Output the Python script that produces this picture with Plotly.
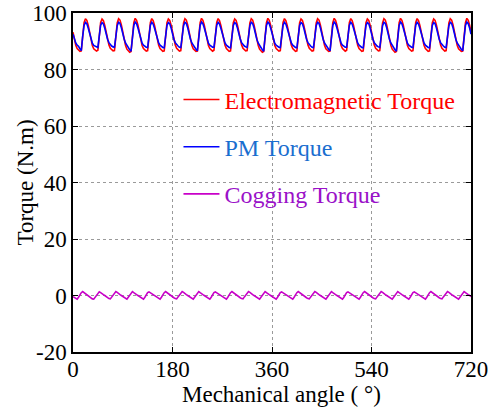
import plotly.graph_objects as go

# Mechanical angle samples (deg), 2.5 deg step
angle_step = 2.5
n_points = 289

# Electromagnetic torque (N.m), one row per 30-deg slot period
em_torque = [
    93.2, 90.6, 88.6, 87.4, 86.8, 86.4, 86.6, 91.5, 96.6, 98.0, 97.4, 95.7,
    93.3, 90.5, 88.5, 87.3, 86.7, 86.5, 86.8, 91.6, 96.7, 97.9, 97.3, 95.6,
    93.1, 90.6, 88.7, 87.5, 86.9, 86.6, 86.7, 91.4, 96.5, 98.0, 97.5, 95.8,
    93.2, 90.7, 88.6, 87.2, 86.5, 86.1, 86.4, 91.3, 96.6, 98.1, 97.4, 95.7,
    93.3, 90.6, 88.5, 87.4, 86.8, 86.5, 86.7, 91.5, 96.7, 98.0, 97.3, 95.6,
    93.2, 90.5, 88.6, 87.4, 86.7, 86.4, 86.6, 91.6, 96.6, 97.9, 97.4, 95.7,
    93.1, 90.6, 88.7, 87.5, 86.9, 86.5, 86.7, 91.4, 96.5, 98.0, 97.5, 95.8,
    93.2, 90.6, 88.6, 87.3, 86.7, 86.4, 86.5, 91.5, 96.6, 98.1, 97.4, 95.7,
    93.3, 90.5, 88.5, 87.4, 86.8, 86.5, 86.8, 91.6, 96.7, 98.0, 97.3, 95.6,
    93.2, 90.6, 88.6, 87.4, 86.7, 86.4, 86.6, 91.5, 96.6, 97.9, 97.4, 95.7,
    93.1, 90.7, 88.7, 87.5, 86.9, 86.6, 86.7, 91.4, 96.5, 98.0, 97.5, 95.8,
    93.2, 90.6, 88.6, 87.2, 86.5, 86.1, 86.4, 91.3, 96.6, 98.1, 97.4, 95.7,
    93.3, 90.6, 88.5, 87.4, 86.8, 86.5, 86.7, 91.5, 96.7, 98.0, 97.3, 95.6,
    93.2, 90.5, 88.6, 87.4, 86.7, 86.4, 86.6, 91.6, 96.6, 97.9, 97.4, 95.7,
    93.1, 90.6, 88.7, 87.5, 86.9, 86.5, 86.7, 91.4, 96.5, 98.0, 97.5, 95.8,
    93.2, 90.6, 88.6, 87.3, 86.7, 86.4, 86.5, 91.5, 96.6, 98.1, 97.4, 95.7,
    93.3, 90.5, 88.5, 87.4, 86.8, 86.5, 86.8, 91.6, 96.7, 98.0, 97.3, 95.6,
    93.2, 90.6, 88.6, 87.4, 86.7, 86.4, 86.6, 91.5, 96.6, 97.9, 97.4, 95.7,
    93.1, 90.7, 88.7, 87.5, 86.9, 86.6, 86.7, 91.4, 96.5, 98.0, 97.5, 95.8,
    93.2, 90.6, 88.6, 87.2, 86.5, 86.1, 86.4, 91.3, 96.6, 98.1, 97.4, 95.7,
    93.3, 90.6, 88.5, 87.4, 86.8, 86.5, 86.7, 91.5, 96.7, 98.0, 97.3, 95.6,
    93.2, 90.5, 88.6, 87.4, 86.7, 86.4, 86.6, 91.6, 96.6, 97.9, 97.4, 95.7,
    93.1, 90.6, 88.7, 87.5, 86.9, 86.5, 86.7, 91.4, 96.5, 98.0, 97.5, 95.8,
    93.2, 90.6, 88.6, 87.3, 86.7, 86.4, 86.5, 91.5, 96.6, 98.1, 97.4, 95.7,
    93.2,
]

# PM torque (N.m)
pm_torque = [
    92.5, 90.7, 89.4, 88.6, 88.2, 87.3, 86.7, 91.7, 95.6, 96.7, 96.2, 94.7,
    92.6, 90.6, 89.3, 88.5, 88.2, 87.9, 87.8, 91.8, 95.7, 96.6, 96.1, 94.6,
    92.4, 90.7, 89.5, 88.7, 88.3, 88.0, 87.9, 91.6, 95.5, 96.7, 96.3, 94.8,
    92.5, 90.8, 89.4, 88.4, 87.8, 87.0, 86.5, 91.5, 95.6, 96.8, 96.2, 94.7,
    92.6, 90.7, 89.3, 88.6, 88.2, 87.9, 87.8, 91.7, 95.7, 96.7, 96.1, 94.6,
    92.5, 90.6, 89.4, 88.6, 88.1, 87.8, 87.7, 91.8, 95.6, 96.6, 96.2, 94.7,
    92.4, 90.7, 89.5, 88.7, 88.3, 87.9, 87.8, 91.6, 95.5, 96.7, 96.3, 94.8,
    92.5, 90.7, 89.4, 88.5, 88.0, 87.2, 86.6, 91.7, 95.6, 96.8, 96.2, 94.7,
    92.6, 90.6, 89.3, 88.6, 88.2, 87.9, 87.9, 91.8, 95.7, 96.7, 96.1, 94.6,
    92.5, 90.7, 89.4, 88.6, 88.1, 87.8, 87.7, 91.7, 95.6, 96.6, 96.2, 94.7,
    92.4, 90.8, 89.5, 88.7, 88.3, 88.0, 87.8, 91.6, 95.5, 96.7, 96.3, 94.8,
    92.5, 90.7, 89.4, 88.4, 87.8, 87.0, 86.5, 91.5, 95.6, 96.8, 96.2, 94.7,
    92.6, 90.7, 89.3, 88.6, 88.2, 87.9, 87.8, 91.7, 95.7, 96.7, 96.1, 94.6,
    92.5, 90.6, 89.4, 88.6, 88.1, 87.8, 87.7, 91.8, 95.6, 96.6, 96.2, 94.7,
    92.4, 90.7, 89.5, 88.7, 88.3, 87.9, 87.8, 91.6, 95.5, 96.7, 96.3, 94.8,
    92.5, 90.7, 89.4, 88.5, 88.0, 87.2, 86.6, 91.7, 95.6, 96.8, 96.2, 94.7,
    92.6, 90.6, 89.3, 88.6, 88.2, 87.9, 87.9, 91.8, 95.7, 96.7, 96.1, 94.6,
    92.5, 90.7, 89.4, 88.6, 88.1, 87.8, 87.7, 91.7, 95.6, 96.6, 96.2, 94.7,
    92.4, 90.8, 89.5, 88.7, 88.3, 88.0, 87.8, 91.6, 95.5, 96.7, 96.3, 94.8,
    92.5, 90.7, 89.4, 88.4, 87.8, 87.0, 86.5, 91.5, 95.6, 96.8, 96.2, 94.7,
    92.6, 90.7, 89.3, 88.6, 88.2, 87.9, 87.8, 91.7, 95.7, 96.7, 96.1, 94.6,
    92.5, 90.6, 89.4, 88.6, 88.1, 87.8, 87.7, 91.8, 95.6, 96.6, 96.2, 94.7,
    92.4, 90.7, 89.5, 88.7, 88.3, 87.9, 87.8, 91.6, 95.5, 96.7, 96.3, 94.8,
    92.5, 90.7, 89.4, 88.5, 88.0, 87.2, 86.6, 91.7, 95.6, 96.8, 96.2, 94.7,
    92.5,
]

# Cogging torque (N.m)
cogging_torque = [
    -0.4, -0.8, -1.1, -1.3, -0.6, 0.3, 1.0, 1.4, 1.0, 0.5, 0.3, 0.0,
    -0.4, -0.8, -1.2, -1.3, -0.6, 0.3, 1.0, 1.3, 1.0, 0.5, 0.3, 0.0,
    -0.4, -0.8, -1.1, -1.2, -0.5, 0.3, 1.0, 1.4, 1.1, 0.6, 0.3, 0.0,
    -0.4, -0.8, -1.1, -1.3, -0.6, 0.2, 0.9, 1.4, 1.0, 0.5, 0.3, 0.0,
    -0.4, -0.8, -1.2, -1.3, -0.6, 0.3, 1.0, 1.3, 1.0, 0.5, 0.3, 0.0,
    -0.4, -0.8, -1.1, -1.3, -0.6, 0.3, 1.0, 1.4, 1.0, 0.5, 0.3, 0.0,
    -0.4, -0.8, -1.1, -1.2, -0.5, 0.3, 1.0, 1.4, 1.1, 0.6, 0.3, 0.0,
    -0.4, -0.8, -1.1, -1.3, -0.6, 0.2, 0.9, 1.4, 1.0, 0.5, 0.3, 0.0,
    -0.4, -0.8, -1.2, -1.3, -0.6, 0.3, 1.0, 1.3, 1.0, 0.5, 0.3, 0.0,
    -0.4, -0.8, -1.1, -1.3, -0.6, 0.3, 1.0, 1.4, 1.0, 0.5, 0.3, 0.0,
    -0.4, -0.8, -1.1, -1.2, -0.5, 0.3, 1.0, 1.4, 1.1, 0.6, 0.3, 0.0,
    -0.4, -0.8, -1.1, -1.3, -0.6, 0.2, 0.9, 1.4, 1.0, 0.5, 0.3, 0.0,
    -0.4, -0.8, -1.2, -1.3, -0.6, 0.3, 1.0, 1.3, 1.0, 0.5, 0.3, 0.0,
    -0.4, -0.8, -1.1, -1.3, -0.6, 0.3, 1.0, 1.4, 1.0, 0.5, 0.3, 0.0,
    -0.4, -0.8, -1.1, -1.2, -0.5, 0.3, 1.0, 1.4, 1.1, 0.6, 0.3, 0.0,
    -0.4, -0.8, -1.1, -1.3, -0.6, 0.2, 0.9, 1.4, 1.0, 0.5, 0.3, 0.0,
    -0.4, -0.8, -1.2, -1.3, -0.6, 0.3, 1.0, 1.3, 1.0, 0.5, 0.3, 0.0,
    -0.4, -0.8, -1.1, -1.3, -0.6, 0.3, 1.0, 1.4, 1.0, 0.5, 0.3, 0.0,
    -0.4, -0.8, -1.1, -1.2, -0.5, 0.3, 1.0, 1.4, 1.1, 0.6, 0.3, 0.0,
    -0.4, -0.8, -1.1, -1.3, -0.6, 0.2, 0.9, 1.4, 1.0, 0.5, 0.3, 0.0,
    -0.4, -0.8, -1.2, -1.3, -0.6, 0.3, 1.0, 1.3, 1.0, 0.5, 0.3, 0.0,
    -0.4, -0.8, -1.1, -1.3, -0.6, 0.3, 1.0, 1.4, 1.0, 0.5, 0.3, 0.0,
    -0.4, -0.8, -1.1, -1.2, -0.5, 0.3, 1.0, 1.4, 1.1, 0.6, 0.3, 0.0,
    -0.4, -0.8, -1.1, -1.3, -0.6, 0.2, 0.9, 1.4, 1.0, 0.5, 0.3, 0.0,
    -0.4,
]

x_ticks = [0, 180, 360, 540, 720]
y_ticks = [-20, 0, 20, 40, 60, 80, 100]

angles = [i * angle_step for i in range(n_points)]

FONT = "Liberation Serif"

fig = go.Figure()
fig.add_trace(go.Scatter(
    x=angles, y=em_torque, mode="lines",
    line=dict(color="#ff0000", width=1.6),
    name='<span style="color:#ff0000">Electromagnetic Torque</span>',
    legendgroup="a",
))
fig.add_trace(go.Scatter(
    x=angles, y=pm_torque, mode="lines",
    line=dict(color="#0000ff", width=1.6),
    name='<span style="color:#1a6ecf">PM Torque</span>',
    legendgroup="b",
))
fig.add_trace(go.Scatter(
    x=angles, y=cogging_torque, mode="lines",
    line=dict(color="#c800c8", width=1.6),
    name='<span style="color:#9a10c8">Cogging Torque</span>',
    legendgroup="c",
))

axis_common = dict(
    showline=True, linecolor="black", linewidth=1.5, mirror="ticks",
    ticks="inside", ticklen=5, tickcolor="black", tickwidth=1,
    showgrid=True, gridcolor="#9a9a9a", griddash="dot", gridwidth=1,
    zeroline=False, automargin=False,
    tickfont=dict(family=FONT, size=23, color="black"),
)

fig.update_layout(
    width=495, height=409,
    margin=dict(l=73, r=24, t=13, b=57),
    paper_bgcolor="white", plot_bgcolor="white",
    font=dict(family=FONT, size=23, color="black"),
    xaxis=dict(
        range=[0, 720], tickvals=x_ticks, ticktext=[str(v) for v in x_ticks],
        ticklabelstandoff=-4,
        **axis_common,
    ),
    yaxis=dict(
        range=[-20, 100], tickvals=y_ticks, ticktext=[str(v) for v in y_ticks],
        **axis_common,
    ),
    annotations=[
        dict(text="Mechanical angle ( °)", xref="paper", yref="paper",
             x=(281 - 73) / 398, y=-(394 - 352) / 339, xanchor="center", yanchor="middle",
             showarrow=False, font=dict(family=FONT, size=23, color="black")),
        dict(text="Torque (N.m)", xref="paper", yref="paper",
             x=-(73 - 25) / 398, y=0.5, xanchor="center", yanchor="middle",
             textangle=-90, showarrow=False, font=dict(family=FONT, size=23, color="black")),
    ],
    showlegend=True,
    legend=dict(
        x=0.265, y=0.81, xanchor="left", yanchor="top",
        bgcolor="rgba(0,0,0,0)", borderwidth=0,
        font=dict(family=FONT, size=24),
        tracegroupgap=13, itemwidth=36,
    ),
)

fig.write_html("out.html")
